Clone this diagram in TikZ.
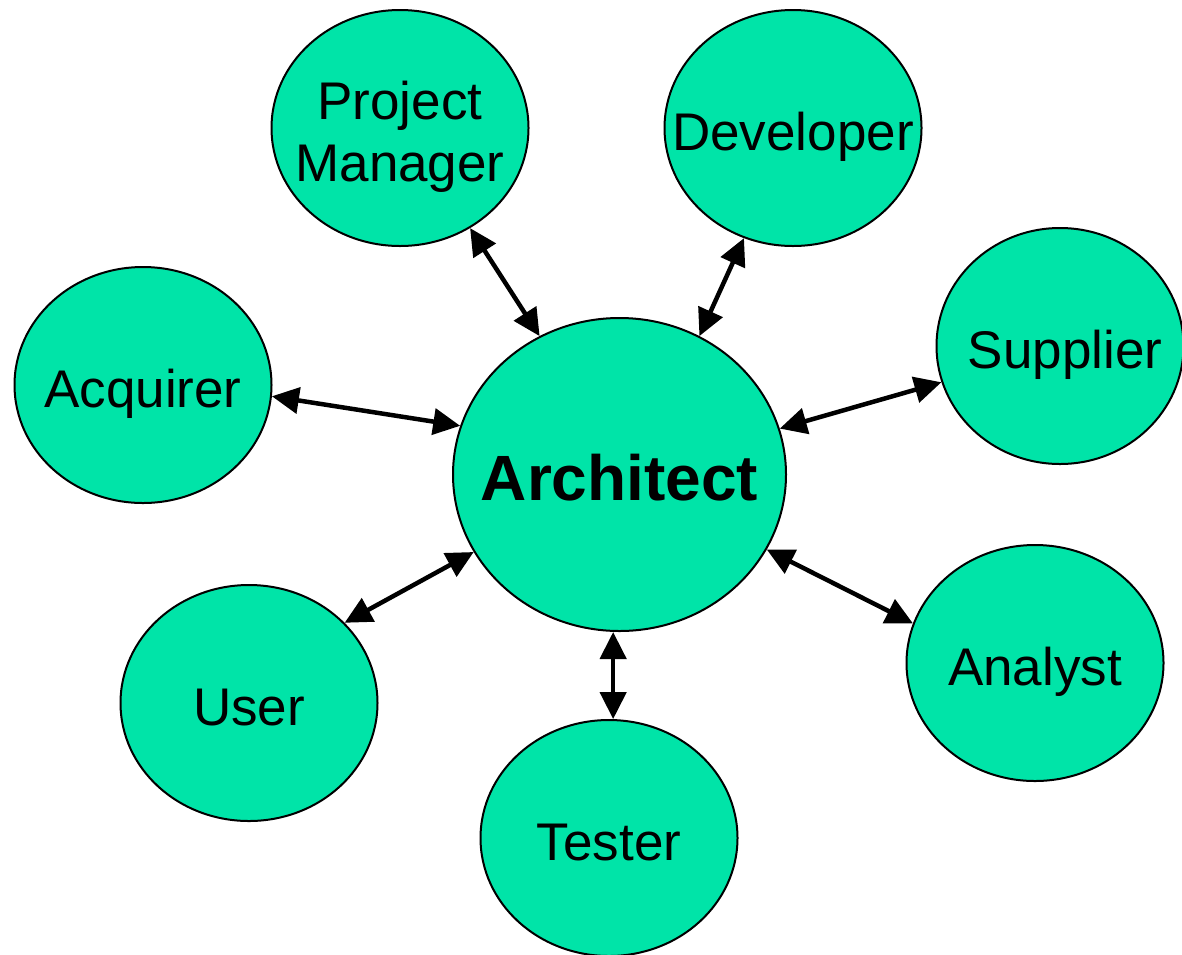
\documentclass[tikz,border=0pt]{standalone}
\usepackage{fontspec}
\setmainfont{Liberation Sans}
\usetikzlibrary{shapes.geometric,arrows.meta}
\definecolor{blobgreen}{RGB}{0,228,168}
\newcommand{\zw}[2][22pt]{\makebox[0pt][c]{\raisebox{-#1}[0pt][0pt]{#2}}}
\begin{document}
\begin{tikzpicture}[x=1pt,y=-1pt,
  role/.style={ellipse,draw=black,line width=2pt,fill=blobgreen,inner sep=0pt,
    minimum width=257pt,minimum height=236pt,align=center,
    font=\fontsize{53}{62}\selectfont},
  hub/.style={role,minimum width=333pt,minimum height=313pt,
    font=\fontsize{64}{70}\selectfont\bfseries},
  link/.style={line width=4.5pt,{Triangle[length=27pt,width=26pt]}-{Triangle[length=27pt,width=26pt]}}]
\useasboundingbox (0,0) rectangle (1182,954);
\begin{scope}
\clip (0,0) rectangle (1182,954);
\node[hub] (arch) at (619.5,474.5) {\zw[26pt]{Architect}};
\node[role] (pm) at (400,128) {\zw{Project}\\\zw{Manager}};
\node[role] (dev) at (793,128) {\zw{Developer}};
\node[role] (acq) at (143,385) {\zw{Acquirer}};
\node[role,minimum width=247pt] (sup) at (1060,346) {\zw{\hspace*{10pt}Supplier}};
\node[role] (user) at (249,703) {\zw{User}};
\node[role] (test) at (609,838) {\zw{Tester}};
\node[role] (ana) at (1035,663) {\zw{Analyst}};
\end{scope}
\draw[link] (pm.-55.7) -- (arch.120.3);
\draw[link] (dev.-114.9) -- (arch.60.1);
\draw[link] (acq.-5.8) -- (arch.163.4);
\draw[link] (sup.-163.6) -- (arch.16.4);
\draw[link] (user.40.1) -- (arch.-152.6);
\draw[link] (test.88.5) -- (test.88.5 |- arch.south);
\draw[link] (ana.162.8) -- (arch.-27.4);
\end{tikzpicture}
\end{document}
